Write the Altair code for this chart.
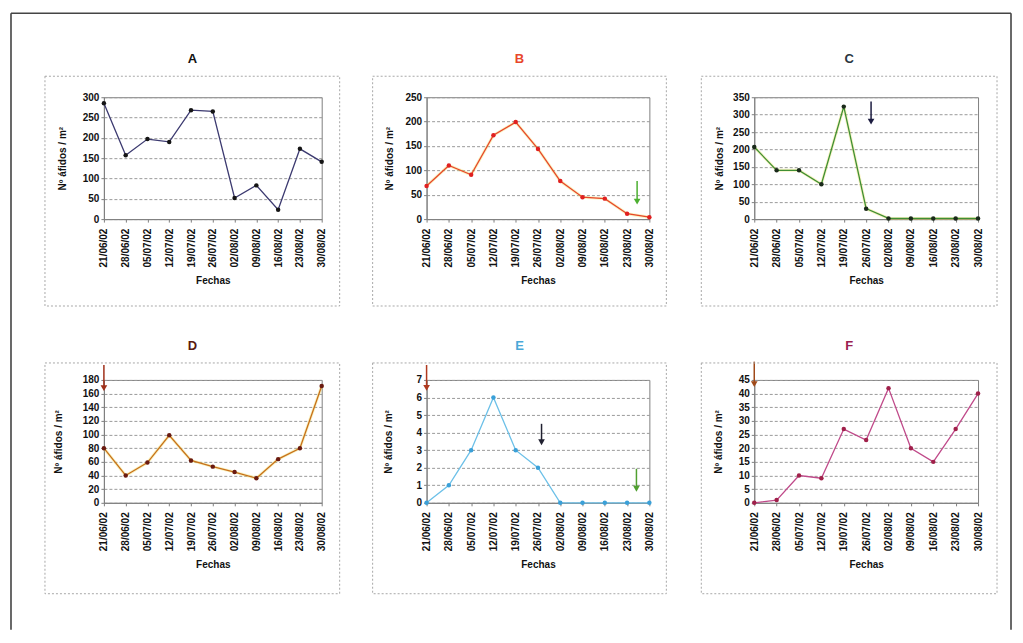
import json
import altair as alt
import pandas as pd

# ---------------- data ----------------
dates = ["21/06/02", "28/06/02", "05/07/02", "12/07/02", "19/07/02", "26/07/02",
         "02/08/02", "09/08/02", "16/08/02", "23/08/02", "30/08/02"]
letters = ["A", "B", "C", "D", "E", "F"]
series_A = [285, 157, 197, 190, 268, 265, 52, 83, 23, 173, 141]
series_B = [68, 110, 91, 172, 199, 144, 78, 45, 42, 11, 4]
series_C = [207, 140, 140, 100, 323, 30, 2, 2, 2, 2, 2]
series_D = [80, 40, 59, 99, 62, 53, 45, 36, 64, 80, 171]
series_E = [0, 1, 3, 6, 3, 2, 0, 0, 0, 0, 0]
series_F = [0, 1, 10, 9, 27, 23, 42, 20, 15, 27, 40]
series = [series_A, series_B, series_C, series_D, series_E, series_F]
y_max = [300, 250, 350, 180, 7, 45]
y_step = [50, 50, 50, 20, 1, 5]

# arrows: (panel, x position in date index, start value, end value, colour)
arrow_panel = ["B", "C", "D", "E", "E", "E", "F"]
arrow_x = [9.45, 5.22, 0, 0, 5.16, 9.42, 0]
arrow_from = [78, 338, 202, 7.85, 4.5, 1.94, 51.7]
arrow_to = [36, 280, 168, 6.55, 3.45, 0.8, 43.5]
arrow_color = ["#4caf30", "#1c1c40", "#a0301a", "#b03a20", "#202030", "#50a030", "#a04a1a"]

# ---------------- styles ----------------
title_colors = ["#111111", "#e8462a", "#2a3440", "#5a1a10", "#4aa8d8", "#9a2050"]
line_colors = ["#3c3a70", "#e8462a", "#3f8f34", "#c8701a", "#6cc0e8", "#c04a8a"]
point_colors = ["#151515", "#e02020", "#1a2a1a", "#6a1a10", "#3aa0d8", "#a0204a"]
halo = [False, True, True, True, False, False]
col_w = [218, 223, 224]
row_h = [122, 123]
box_x = [(-59, 236), (-54, 240), (-53, 243)]
box_y = [(-21, 209), (-17, 214)]
ytitle_x = [-36, -32, -30, -40, -33, -31]
FONT = "Liberation Sans"

label_expr = json.dumps(dates) + "[datum.value]"


def one_row():
    return pd.DataFrame({"k": [0]})


def panel(i):
    r, c = divmod(i, 3)
    W, H = col_w[c], row_h[r]
    df = pd.DataFrame({"idx": list(range(len(dates))), "val": series[i]})
    xscale = alt.Scale(domain=[0, 10], nice=False, zero=False)
    yscale = alt.Scale(domain=[0, y_max[i]], nice=False, zero=True)
    ticks = list(range(0, y_max[i] + y_step[i], y_step[i]))
    xaxis = alt.Axis(values=list(range(len(dates))), labelExpr=label_expr,
                     labelAngle=-90, labelAlign="right", labelBaseline="middle",
                     labelPadding=6, title="Fechas", titlePadding=9, grid=False,
                     labelOverlap=False, tickSize=3)
    yaxis = alt.Axis(values=ticks, title="Nº áfidos / m²", titleX=ytitle_x[i],
                     grid=True, gridDash=[3, 2], gridColor="#9a9a9a",
                     labelPadding=2, tickSize=3, labelOverlap=False)
    x = alt.X("idx:Q", scale=xscale, axis=xaxis)
    y = alt.Y("val:Q", scale=yscale, axis=yaxis)
    base = alt.Chart(df)
    layers = []
    if halo[i]:
        layers.append(base.mark_line(color="#eadc50", strokeWidth=3, opacity=0.35)
                      .encode(x=x, y=y))
    layers.append(base.mark_line(color=line_colors[i], strokeWidth=1.3).encode(x=x, y=y))
    layers.append(base.mark_point(filled=True, size=20, opacity=1, color=point_colors[i])
                  .encode(x=x, y=y))

    L = letters[i]
    sel = [k for k in range(len(arrow_panel)) if arrow_panel[k] == L]
    if sel:
        adf = pd.DataFrame({
            "idx": [arrow_x[k] for k in sel],
            "val": [arrow_from[k] for k in sel],
            "val2": [arrow_to[k] for k in sel],
            "col": [arrow_color[k] for k in sel],
        })
        ab = alt.Chart(adf)
        layers.append(ab.mark_rule(strokeWidth=1.5).encode(
            x=x, y=y, y2="val2:Q", color=alt.Color("col:N", scale=None)))
        layers.append(ab.mark_point(shape="triangle-down", filled=True, size=45, opacity=1).encode(
            x=x, y=alt.Y("val2:Q", scale=yscale, axis=yaxis),
            color=alt.Color("col:N", scale=None)))

    bx0, bx1 = box_x[c]
    by0, by1 = box_y[r]
    layers.append(alt.Chart(one_row()).mark_rect(fillOpacity=0, stroke="#a8a8a8",
                                                strokeDash=[2, 2], strokeWidth=1).encode(
        x=alt.value(bx0), x2=alt.value(bx1), y=alt.value(by0), y2=alt.value(by1)))
    layers.append(alt.Chart(one_row()).mark_text(font=FONT, fontSize=13, fontWeight="bold",
                                                color=title_colors[i], baseline="middle").encode(
        text=alt.value(L), x=alt.value((bx0 + bx1) / 2), y=alt.value(by0 - 17)))
    if i == 0:
        fr = alt.Chart(one_row())
        kw = dict(color="#444444", strokeWidth=1.6)
        layers.append(fr.mark_rule(**kw).encode(x=alt.value(-93), y=alt.value(-84), y2=alt.value(533)))
        layers.append(fr.mark_rule(**kw).encode(x=alt.value(-93), x2=alt.value(908), y=alt.value(-84)))
        layers.append(fr.mark_rule(**kw).encode(x=alt.value(908), y=alt.value(-84), y2=alt.value(533)))
    return alt.layer(*layers).properties(width=W, height=H)


chart = alt.concat(*[panel(i) for i in range(6)], columns=3,
                   spacing={"row": 161, "column": 105}, bounds="flush", align="each")
chart = chart.properties(padding={"left": 1, "top": 3, "right": 2, "bottom": 2},
                         background="white")
chart = chart.configure_view(stroke="#808080", strokeWidth=1).configure_axis(
    labelFont=FONT, labelFontWeight="bold", labelFontSize=10, labelColor="#111111",
    titleFont=FONT, titleFontWeight="bold", titleFontSize=10, titleColor="#111111",
    domainColor="#808080", tickColor="#808080")

chart.save("out.html", embed_options={"renderer": "svg", "actions": False})
